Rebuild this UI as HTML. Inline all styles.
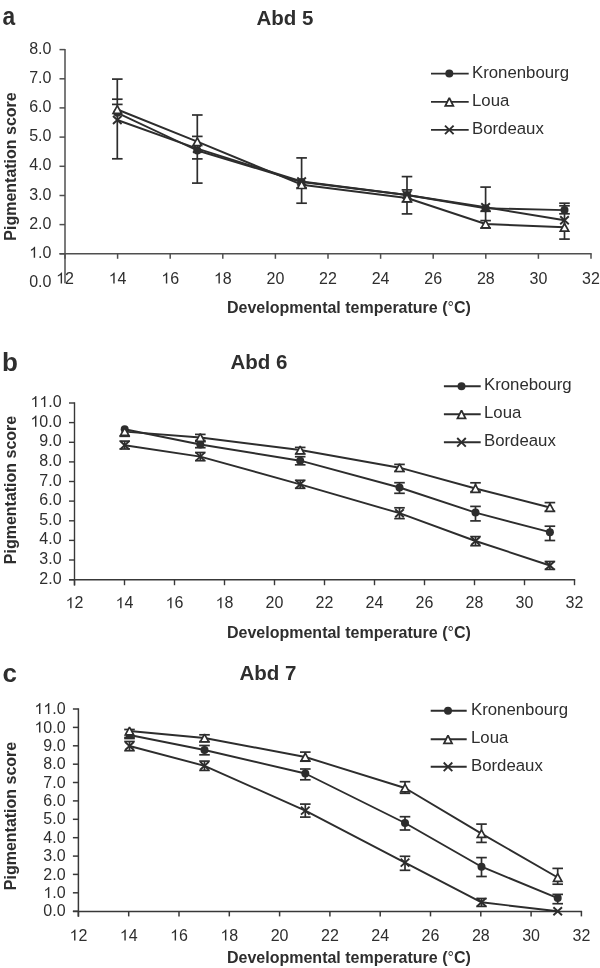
<!DOCTYPE html>
<html><head><meta charset="utf-8"><title>Figure</title>
<style>
html,body{margin:0;padding:0;background:#fff;width:600px;height:968px;overflow:hidden}
svg{display:block;will-change:transform}
text{font-family:"Liberation Sans",sans-serif;fill:#2e2e2e}
</style></head><body>
<svg width="600" height="968" viewBox="0 0 600 968">
<rect width="600" height="968" fill="#fff"/>
<line x1="65.0" y1="48.9" x2="65.0" y2="283.3" stroke="#4f4f4f" stroke-width="1.5"/>
<line x1="59.5" y1="253.8" x2="591.7" y2="253.8" stroke="#4f4f4f" stroke-width="1.5"/>
<line x1="59.5" y1="49.6" x2="65.0" y2="49.6" stroke="#4f4f4f" stroke-width="1.5"/>
<text x="29.16 38.06 42.50" y="53.6" font-size="16">8.0</text>
<line x1="59.5" y1="78.8" x2="65.0" y2="78.8" stroke="#4f4f4f" stroke-width="1.5"/>
<text x="29.16 38.06 42.50" y="82.8" font-size="16">7.0</text>
<line x1="59.5" y1="107.9" x2="65.0" y2="107.9" stroke="#4f4f4f" stroke-width="1.5"/>
<text x="29.16 38.06 42.50" y="111.9" font-size="16">6.0</text>
<line x1="59.5" y1="137.1" x2="65.0" y2="137.1" stroke="#4f4f4f" stroke-width="1.5"/>
<text x="29.16 38.06 42.50" y="141.1" font-size="16">5.0</text>
<line x1="59.5" y1="166.3" x2="65.0" y2="166.3" stroke="#4f4f4f" stroke-width="1.5"/>
<text x="29.16 38.06 42.50" y="170.3" font-size="16">4.0</text>
<line x1="59.5" y1="195.5" x2="65.0" y2="195.5" stroke="#4f4f4f" stroke-width="1.5"/>
<text x="29.16 38.06 42.50" y="199.5" font-size="16">3.0</text>
<line x1="59.5" y1="224.6" x2="65.0" y2="224.6" stroke="#4f4f4f" stroke-width="1.5"/>
<text x="29.16 38.06 42.50" y="228.6" font-size="16">2.0</text>
<line x1="59.5" y1="253.8" x2="65.0" y2="253.8" stroke="#4f4f4f" stroke-width="1.5"/>
<path d="M763,0L583,0L583,1098Q518,1038 412,979Q306,920 223,890L223,1057Q375,1125 488,1221Q601,1318 648,1409L763,1409Z" transform="translate(29.16,257.79) scale(0.007812,-0.007812)" fill="#2e2e2e"/>
<text x="38.06 42.50" y="257.8" font-size="16">.0</text>
<text x="29.16 38.06 42.50" y="287.0" font-size="16">0.0</text>
<line x1="65.0" y1="253.8" x2="65.0" y2="258.8" stroke="#4f4f4f" stroke-width="1.5"/>
<path d="M763,0L583,0L583,1098Q518,1038 412,979Q306,920 223,890L223,1057Q375,1125 488,1221Q601,1318 648,1409L763,1409Z" transform="translate(56.10,283.50) scale(0.007812,-0.007812)" fill="#2e2e2e"/>
<text x="65.00" y="283.5" font-size="16">2</text>
<line x1="117.6" y1="253.8" x2="117.6" y2="258.8" stroke="#4f4f4f" stroke-width="1.5"/>
<path d="M763,0L583,0L583,1098Q518,1038 412,979Q306,920 223,890L223,1057Q375,1125 488,1221Q601,1318 648,1409L763,1409Z" transform="translate(108.70,283.50) scale(0.007812,-0.007812)" fill="#2e2e2e"/>
<text x="117.60" y="283.5" font-size="16">4</text>
<line x1="170.2" y1="253.8" x2="170.2" y2="258.8" stroke="#4f4f4f" stroke-width="1.5"/>
<path d="M763,0L583,0L583,1098Q518,1038 412,979Q306,920 223,890L223,1057Q375,1125 488,1221Q601,1318 648,1409L763,1409Z" transform="translate(161.30,283.50) scale(0.007812,-0.007812)" fill="#2e2e2e"/>
<text x="170.20" y="283.5" font-size="16">6</text>
<line x1="222.8" y1="253.8" x2="222.8" y2="258.8" stroke="#4f4f4f" stroke-width="1.5"/>
<path d="M763,0L583,0L583,1098Q518,1038 412,979Q306,920 223,890L223,1057Q375,1125 488,1221Q601,1318 648,1409L763,1409Z" transform="translate(213.90,283.50) scale(0.007812,-0.007812)" fill="#2e2e2e"/>
<text x="222.80" y="283.5" font-size="16">8</text>
<line x1="275.4" y1="253.8" x2="275.4" y2="258.8" stroke="#4f4f4f" stroke-width="1.5"/>
<text x="266.50 275.40" y="283.5" font-size="16">20</text>
<line x1="328.0" y1="253.8" x2="328.0" y2="258.8" stroke="#4f4f4f" stroke-width="1.5"/>
<text x="319.10 328.00" y="283.5" font-size="16">22</text>
<line x1="380.6" y1="253.8" x2="380.6" y2="258.8" stroke="#4f4f4f" stroke-width="1.5"/>
<text x="371.70 380.60" y="283.5" font-size="16">24</text>
<line x1="433.2" y1="253.8" x2="433.2" y2="258.8" stroke="#4f4f4f" stroke-width="1.5"/>
<text x="424.30 433.20" y="283.5" font-size="16">26</text>
<line x1="485.8" y1="253.8" x2="485.8" y2="258.8" stroke="#4f4f4f" stroke-width="1.5"/>
<text x="476.90 485.80" y="283.5" font-size="16">28</text>
<line x1="538.4" y1="253.8" x2="538.4" y2="258.8" stroke="#4f4f4f" stroke-width="1.5"/>
<text x="529.50 538.40" y="283.5" font-size="16">30</text>
<line x1="591.0" y1="253.8" x2="591.0" y2="258.8" stroke="#4f4f4f" stroke-width="1.5"/>
<text x="582.10 591.00" y="283.5" font-size="16">32</text>
<line x1="117.3" y1="79.1" x2="117.3" y2="158.8" stroke="#2d2d2d" stroke-width="1.7"/>
<line x1="112.0" y1="79.1" x2="122.6" y2="79.1" stroke="#2d2d2d" stroke-width="1.7"/>
<line x1="112.0" y1="99.2" x2="122.6" y2="99.2" stroke="#2d2d2d" stroke-width="1.7"/>
<line x1="112.0" y1="104.4" x2="122.6" y2="104.4" stroke="#2d2d2d" stroke-width="1.7"/>
<line x1="112.0" y1="158.8" x2="122.6" y2="158.8" stroke="#2d2d2d" stroke-width="1.7"/>
<line x1="197.3" y1="115.0" x2="197.3" y2="183.1" stroke="#2d2d2d" stroke-width="1.7"/>
<line x1="192.0" y1="115.0" x2="202.6" y2="115.0" stroke="#2d2d2d" stroke-width="1.7"/>
<line x1="192.0" y1="136.4" x2="202.6" y2="136.4" stroke="#2d2d2d" stroke-width="1.7"/>
<line x1="192.0" y1="158.9" x2="202.6" y2="158.9" stroke="#2d2d2d" stroke-width="1.7"/>
<line x1="192.0" y1="183.1" x2="202.6" y2="183.1" stroke="#2d2d2d" stroke-width="1.7"/>
<line x1="301.6" y1="157.9" x2="301.6" y2="203.2" stroke="#2d2d2d" stroke-width="1.7"/>
<line x1="296.3" y1="157.9" x2="306.9" y2="157.9" stroke="#2d2d2d" stroke-width="1.7"/>
<line x1="296.3" y1="187.8" x2="306.9" y2="187.8" stroke="#2d2d2d" stroke-width="1.7"/>
<line x1="296.3" y1="203.2" x2="306.9" y2="203.2" stroke="#2d2d2d" stroke-width="1.7"/>
<line x1="407.0" y1="176.6" x2="407.0" y2="213.9" stroke="#2d2d2d" stroke-width="1.7"/>
<line x1="401.7" y1="176.6" x2="412.3" y2="176.6" stroke="#2d2d2d" stroke-width="1.7"/>
<line x1="401.7" y1="189.9" x2="412.3" y2="189.9" stroke="#2d2d2d" stroke-width="1.7"/>
<line x1="401.7" y1="201.7" x2="412.3" y2="201.7" stroke="#2d2d2d" stroke-width="1.7"/>
<line x1="401.7" y1="213.9" x2="412.3" y2="213.9" stroke="#2d2d2d" stroke-width="1.7"/>
<line x1="485.6" y1="187.1" x2="485.6" y2="228.0" stroke="#2d2d2d" stroke-width="1.7"/>
<line x1="480.3" y1="187.1" x2="490.9" y2="187.1" stroke="#2d2d2d" stroke-width="1.7"/>
<line x1="480.3" y1="211.3" x2="490.9" y2="211.3" stroke="#2d2d2d" stroke-width="1.7"/>
<line x1="480.3" y1="220.6" x2="490.9" y2="220.6" stroke="#2d2d2d" stroke-width="1.7"/>
<line x1="480.3" y1="228.0" x2="490.9" y2="228.0" stroke="#2d2d2d" stroke-width="1.7"/>
<line x1="564.5" y1="203.2" x2="564.5" y2="239.1" stroke="#2d2d2d" stroke-width="1.7"/>
<line x1="559.2" y1="203.2" x2="569.8" y2="203.2" stroke="#2d2d2d" stroke-width="1.7"/>
<line x1="559.2" y1="205.8" x2="569.8" y2="205.8" stroke="#2d2d2d" stroke-width="1.7"/>
<line x1="559.2" y1="213.8" x2="569.8" y2="213.8" stroke="#2d2d2d" stroke-width="1.7"/>
<line x1="559.2" y1="239.1" x2="569.8" y2="239.1" stroke="#2d2d2d" stroke-width="1.7"/>
<polyline points="117.3,112.8 197.3,150.5 301.6,182.0 407.0,195.0 485.6,208.3 564.5,210.1" fill="none" stroke="#2d2d2d" stroke-width="1.9" stroke-linejoin="round"/>
<polyline points="117.3,109.5 197.3,141.7 301.6,184.7 407.0,198.0 485.6,224.0 564.5,227.3" fill="none" stroke="#2d2d2d" stroke-width="1.9" stroke-linejoin="round"/>
<polyline points="117.3,120.0 197.3,148.7 301.6,181.5 407.0,195.0 485.6,207.3 564.5,220.3" fill="none" stroke="#2d2d2d" stroke-width="1.9" stroke-linejoin="round"/>
<circle cx="117.3" cy="112.8" r="4.0" fill="#2d2d2d"/>
<circle cx="197.3" cy="150.5" r="4.0" fill="#2d2d2d"/>
<circle cx="301.6" cy="182.0" r="4.0" fill="#2d2d2d"/>
<circle cx="407.0" cy="195.0" r="4.0" fill="#2d2d2d"/>
<circle cx="485.6" cy="208.3" r="4.0" fill="#2d2d2d"/>
<circle cx="564.5" cy="210.1" r="4.0" fill="#2d2d2d"/>
<path d="M113.0,116.0L121.6,124.0M121.6,116.0L113.0,124.0" stroke="#2d2d2d" stroke-width="1.9" fill="none"/>
<path d="M193.0,144.7L201.6,152.7M201.6,144.7L193.0,152.7" stroke="#2d2d2d" stroke-width="1.9" fill="none"/>
<path d="M297.3,177.5L305.9,185.5M305.9,177.5L297.3,185.5" stroke="#2d2d2d" stroke-width="1.9" fill="none"/>
<path d="M402.7,191.0L411.3,199.0M411.3,191.0L402.7,199.0" stroke="#2d2d2d" stroke-width="1.9" fill="none"/>
<path d="M481.3,203.3L489.9,211.3M489.9,203.3L481.3,211.3" stroke="#2d2d2d" stroke-width="1.9" fill="none"/>
<path d="M560.2,216.3L568.8,224.3M568.8,216.3L560.2,224.3" stroke="#2d2d2d" stroke-width="1.9" fill="none"/>
<polygon points="117.30,105.70 121.50,113.30 113.10,113.30" fill="#fff" stroke="#2d2d2d" stroke-width="1.7" stroke-linejoin="miter" stroke-miterlimit="2"/>
<polygon points="197.30,137.90 201.50,145.50 193.10,145.50" fill="#fff" stroke="#2d2d2d" stroke-width="1.7" stroke-linejoin="miter" stroke-miterlimit="2"/>
<polygon points="301.60,180.90 305.80,188.50 297.40,188.50" fill="#fff" stroke="#2d2d2d" stroke-width="1.7" stroke-linejoin="miter" stroke-miterlimit="2"/>
<polygon points="407.00,194.20 411.20,201.80 402.80,201.80" fill="#fff" stroke="#2d2d2d" stroke-width="1.7" stroke-linejoin="miter" stroke-miterlimit="2"/>
<polygon points="485.60,220.20 489.80,227.80 481.40,227.80" fill="#fff" stroke="#2d2d2d" stroke-width="1.7" stroke-linejoin="miter" stroke-miterlimit="2"/>
<polygon points="564.50,223.50 568.70,231.10 560.30,231.10" fill="#fff" stroke="#2d2d2d" stroke-width="1.7" stroke-linejoin="miter" stroke-miterlimit="2"/>
<line x1="431.0" y1="73.6" x2="468.7" y2="73.6" stroke="#2d2d2d" stroke-width="1.9"/>
<circle cx="449.3" cy="73.6" r="4.0" fill="#2d2d2d"/>
<text x="472.0" y="77.6" font-size="16.8" text-anchor="start" >Kronenbourg</text>
<line x1="431.0" y1="101.9" x2="468.7" y2="101.9" stroke="#2d2d2d" stroke-width="1.9"/>
<polygon points="449.30,97.90 453.30,105.90 445.30,105.90" fill="#fff" stroke="#2d2d2d" stroke-width="1.8" stroke-linejoin="miter" stroke-miterlimit="2"/>
<text x="472.0" y="105.9" font-size="16.8" text-anchor="start" >Loua</text>
<line x1="431.0" y1="129.9" x2="468.7" y2="129.9" stroke="#2d2d2d" stroke-width="1.9"/>
<path d="M445.0,125.6L453.6,134.2M453.6,125.6L445.0,134.2" stroke="#2d2d2d" stroke-width="1.9" fill="none"/>
<text x="472.0" y="133.9" font-size="16.8" text-anchor="start" >Bordeaux</text>
<text x="0" y="0" font-size="26" font-weight="bold" transform="translate(2.6,24.8) scale(0.875,1)">a</text>
<text x="256.5" y="25.0" font-size="20.5" font-weight="bold" text-anchor="start" >Abd 5</text>
<text x="227.0" y="313.4" font-size="16" font-weight="bold" text-anchor="start" >Developmental temperature (<tspan font-weight="normal">°</tspan>C)</text>
<text x="0" y="0" font-size="16" font-weight="bold" text-anchor="middle" transform="translate(15.5,166.5) rotate(-90)">Pigmentation score</text>
<line x1="74.5" y1="402.3" x2="74.5" y2="585.6" stroke="#383838" stroke-width="1.4"/>
<line x1="69.0" y1="579.7" x2="575.2" y2="579.7" stroke="#383838" stroke-width="1.4"/>
<line x1="69.0" y1="403.0" x2="74.5" y2="403.0" stroke="#383838" stroke-width="1.4"/>
<path d="M763,0L583,0L583,1098Q518,1038 412,979Q306,920 223,890L223,1057Q375,1125 488,1221Q601,1318 648,1409L763,1409Z" transform="translate(30.46,407.00) scale(0.007812,-0.007812)" fill="#2e2e2e"/>
<path d="M763,0L583,0L583,1098Q518,1038 412,979Q306,920 223,890L223,1057Q375,1125 488,1221Q601,1318 648,1409L763,1409Z" transform="translate(39.36,407.00) scale(0.007812,-0.007812)" fill="#2e2e2e"/>
<text x="48.26 52.70" y="407.0" font-size="16">.0</text>
<line x1="69.0" y1="422.6" x2="74.5" y2="422.6" stroke="#383838" stroke-width="1.4"/>
<path d="M763,0L583,0L583,1098Q518,1038 412,979Q306,920 223,890L223,1057Q375,1125 488,1221Q601,1318 648,1409L763,1409Z" transform="translate(30.46,426.63) scale(0.007812,-0.007812)" fill="#2e2e2e"/>
<text x="39.36 48.26 52.70" y="426.6" font-size="16">0.0</text>
<line x1="69.0" y1="442.3" x2="74.5" y2="442.3" stroke="#383838" stroke-width="1.4"/>
<text x="39.36 48.26 52.70" y="446.3" font-size="16">9.0</text>
<line x1="69.0" y1="461.9" x2="74.5" y2="461.9" stroke="#383838" stroke-width="1.4"/>
<text x="39.36 48.26 52.70" y="465.9" font-size="16">8.0</text>
<line x1="69.0" y1="481.5" x2="74.5" y2="481.5" stroke="#383838" stroke-width="1.4"/>
<text x="39.36 48.26 52.70" y="485.5" font-size="16">7.0</text>
<line x1="69.0" y1="501.1" x2="74.5" y2="501.1" stroke="#383838" stroke-width="1.4"/>
<text x="39.36 48.26 52.70" y="505.1" font-size="16">6.0</text>
<line x1="69.0" y1="520.8" x2="74.5" y2="520.8" stroke="#383838" stroke-width="1.4"/>
<text x="39.36 48.26 52.70" y="524.8" font-size="16">5.0</text>
<line x1="69.0" y1="540.4" x2="74.5" y2="540.4" stroke="#383838" stroke-width="1.4"/>
<text x="39.36 48.26 52.70" y="544.4" font-size="16">4.0</text>
<line x1="69.0" y1="560.0" x2="74.5" y2="560.0" stroke="#383838" stroke-width="1.4"/>
<text x="39.36 48.26 52.70" y="564.0" font-size="16">3.0</text>
<line x1="69.0" y1="579.7" x2="74.5" y2="579.7" stroke="#383838" stroke-width="1.4"/>
<text x="39.36 48.26 52.70" y="583.7" font-size="16">2.0</text>
<line x1="74.5" y1="579.7" x2="74.5" y2="585.2" stroke="#383838" stroke-width="1.4"/>
<path d="M763,0L583,0L583,1098Q518,1038 412,979Q306,920 223,890L223,1057Q375,1125 488,1221Q601,1318 648,1409L763,1409Z" transform="translate(65.60,608.20) scale(0.007812,-0.007812)" fill="#2e2e2e"/>
<text x="74.50" y="608.2" font-size="16">2</text>
<line x1="124.5" y1="579.7" x2="124.5" y2="585.2" stroke="#383838" stroke-width="1.4"/>
<path d="M763,0L583,0L583,1098Q518,1038 412,979Q306,920 223,890L223,1057Q375,1125 488,1221Q601,1318 648,1409L763,1409Z" transform="translate(115.60,608.20) scale(0.007812,-0.007812)" fill="#2e2e2e"/>
<text x="124.50" y="608.2" font-size="16">4</text>
<line x1="174.5" y1="579.7" x2="174.5" y2="585.2" stroke="#383838" stroke-width="1.4"/>
<path d="M763,0L583,0L583,1098Q518,1038 412,979Q306,920 223,890L223,1057Q375,1125 488,1221Q601,1318 648,1409L763,1409Z" transform="translate(165.60,608.20) scale(0.007812,-0.007812)" fill="#2e2e2e"/>
<text x="174.50" y="608.2" font-size="16">6</text>
<line x1="224.5" y1="579.7" x2="224.5" y2="585.2" stroke="#383838" stroke-width="1.4"/>
<path d="M763,0L583,0L583,1098Q518,1038 412,979Q306,920 223,890L223,1057Q375,1125 488,1221Q601,1318 648,1409L763,1409Z" transform="translate(215.60,608.20) scale(0.007812,-0.007812)" fill="#2e2e2e"/>
<text x="224.50" y="608.2" font-size="16">8</text>
<line x1="274.5" y1="579.7" x2="274.5" y2="585.2" stroke="#383838" stroke-width="1.4"/>
<text x="265.60 274.50" y="608.2" font-size="16">20</text>
<line x1="324.5" y1="579.7" x2="324.5" y2="585.2" stroke="#383838" stroke-width="1.4"/>
<text x="315.60 324.50" y="608.2" font-size="16">22</text>
<line x1="374.5" y1="579.7" x2="374.5" y2="585.2" stroke="#383838" stroke-width="1.4"/>
<text x="365.60 374.50" y="608.2" font-size="16">24</text>
<line x1="424.5" y1="579.7" x2="424.5" y2="585.2" stroke="#383838" stroke-width="1.4"/>
<text x="415.60 424.50" y="608.2" font-size="16">26</text>
<line x1="474.5" y1="579.7" x2="474.5" y2="585.2" stroke="#383838" stroke-width="1.4"/>
<text x="465.60 474.50" y="608.2" font-size="16">28</text>
<line x1="524.5" y1="579.7" x2="524.5" y2="585.2" stroke="#383838" stroke-width="1.4"/>
<text x="515.60 524.50" y="608.2" font-size="16">30</text>
<line x1="574.5" y1="579.7" x2="574.5" y2="585.2" stroke="#383838" stroke-width="1.4"/>
<text x="565.60 574.50" y="608.2" font-size="16">32</text>
<line x1="124.7" y1="428.5" x2="124.7" y2="436.3" stroke="#2d2d2d" stroke-width="1.7"/>
<line x1="119.4" y1="436.3" x2="130.0" y2="436.3" stroke="#2d2d2d" stroke-width="1.7"/>
<line x1="124.7" y1="441.1" x2="124.7" y2="449.0" stroke="#2d2d2d" stroke-width="1.7"/>
<line x1="119.4" y1="441.1" x2="130.0" y2="441.1" stroke="#2d2d2d" stroke-width="1.7"/>
<line x1="119.4" y1="449.0" x2="130.0" y2="449.0" stroke="#2d2d2d" stroke-width="1.7"/>
<line x1="200.3" y1="434.4" x2="200.3" y2="440.5" stroke="#2d2d2d" stroke-width="1.7"/>
<line x1="195.0" y1="434.4" x2="205.6" y2="434.4" stroke="#2d2d2d" stroke-width="1.7"/>
<line x1="195.0" y1="440.5" x2="205.6" y2="440.5" stroke="#2d2d2d" stroke-width="1.7"/>
<line x1="200.3" y1="441.5" x2="200.3" y2="447.7" stroke="#2d2d2d" stroke-width="1.7"/>
<line x1="195.0" y1="441.5" x2="205.6" y2="441.5" stroke="#2d2d2d" stroke-width="1.7"/>
<line x1="195.0" y1="447.7" x2="205.6" y2="447.7" stroke="#2d2d2d" stroke-width="1.7"/>
<line x1="200.3" y1="452.5" x2="200.3" y2="460.7" stroke="#2d2d2d" stroke-width="1.7"/>
<line x1="195.0" y1="452.5" x2="205.6" y2="452.5" stroke="#2d2d2d" stroke-width="1.7"/>
<line x1="195.0" y1="460.7" x2="205.6" y2="460.7" stroke="#2d2d2d" stroke-width="1.7"/>
<line x1="300.2" y1="447.4" x2="300.2" y2="453.6" stroke="#2d2d2d" stroke-width="1.7"/>
<line x1="294.9" y1="447.4" x2="305.5" y2="447.4" stroke="#2d2d2d" stroke-width="1.7"/>
<line x1="294.9" y1="453.6" x2="305.5" y2="453.6" stroke="#2d2d2d" stroke-width="1.7"/>
<line x1="300.2" y1="456.7" x2="300.2" y2="464.8" stroke="#2d2d2d" stroke-width="1.7"/>
<line x1="294.9" y1="456.7" x2="305.5" y2="456.7" stroke="#2d2d2d" stroke-width="1.7"/>
<line x1="294.9" y1="464.8" x2="305.5" y2="464.8" stroke="#2d2d2d" stroke-width="1.7"/>
<line x1="300.2" y1="480.3" x2="300.2" y2="488.3" stroke="#2d2d2d" stroke-width="1.7"/>
<line x1="294.9" y1="480.3" x2="305.5" y2="480.3" stroke="#2d2d2d" stroke-width="1.7"/>
<line x1="294.9" y1="488.3" x2="305.5" y2="488.3" stroke="#2d2d2d" stroke-width="1.7"/>
<line x1="399.5" y1="464.4" x2="399.5" y2="471.3" stroke="#2d2d2d" stroke-width="1.7"/>
<line x1="394.2" y1="464.4" x2="404.8" y2="464.4" stroke="#2d2d2d" stroke-width="1.7"/>
<line x1="394.2" y1="471.3" x2="404.8" y2="471.3" stroke="#2d2d2d" stroke-width="1.7"/>
<line x1="399.5" y1="482.7" x2="399.5" y2="493.3" stroke="#2d2d2d" stroke-width="1.7"/>
<line x1="394.2" y1="482.7" x2="404.8" y2="482.7" stroke="#2d2d2d" stroke-width="1.7"/>
<line x1="394.2" y1="493.3" x2="404.8" y2="493.3" stroke="#2d2d2d" stroke-width="1.7"/>
<line x1="399.5" y1="507.8" x2="399.5" y2="518.6" stroke="#2d2d2d" stroke-width="1.7"/>
<line x1="394.2" y1="507.8" x2="404.8" y2="507.8" stroke="#2d2d2d" stroke-width="1.7"/>
<line x1="394.2" y1="518.6" x2="404.8" y2="518.6" stroke="#2d2d2d" stroke-width="1.7"/>
<line x1="475.5" y1="482.8" x2="475.5" y2="491.7" stroke="#2d2d2d" stroke-width="1.7"/>
<line x1="470.2" y1="482.8" x2="480.8" y2="482.8" stroke="#2d2d2d" stroke-width="1.7"/>
<line x1="470.2" y1="491.7" x2="480.8" y2="491.7" stroke="#2d2d2d" stroke-width="1.7"/>
<line x1="475.5" y1="506.4" x2="475.5" y2="520.9" stroke="#2d2d2d" stroke-width="1.7"/>
<line x1="470.2" y1="506.4" x2="480.8" y2="506.4" stroke="#2d2d2d" stroke-width="1.7"/>
<line x1="470.2" y1="520.9" x2="480.8" y2="520.9" stroke="#2d2d2d" stroke-width="1.7"/>
<line x1="475.5" y1="536.6" x2="475.5" y2="545.7" stroke="#2d2d2d" stroke-width="1.7"/>
<line x1="470.2" y1="536.6" x2="480.8" y2="536.6" stroke="#2d2d2d" stroke-width="1.7"/>
<line x1="470.2" y1="545.7" x2="480.8" y2="545.7" stroke="#2d2d2d" stroke-width="1.7"/>
<line x1="549.9" y1="502.6" x2="549.9" y2="511.1" stroke="#2d2d2d" stroke-width="1.7"/>
<line x1="544.6" y1="502.6" x2="555.2" y2="502.6" stroke="#2d2d2d" stroke-width="1.7"/>
<line x1="544.6" y1="511.1" x2="555.2" y2="511.1" stroke="#2d2d2d" stroke-width="1.7"/>
<line x1="549.9" y1="526.2" x2="549.9" y2="540.5" stroke="#2d2d2d" stroke-width="1.7"/>
<line x1="544.6" y1="526.2" x2="555.2" y2="526.2" stroke="#2d2d2d" stroke-width="1.7"/>
<line x1="544.6" y1="540.5" x2="555.2" y2="540.5" stroke="#2d2d2d" stroke-width="1.7"/>
<line x1="549.9" y1="561.5" x2="549.9" y2="569.4" stroke="#2d2d2d" stroke-width="1.7"/>
<line x1="544.6" y1="561.5" x2="555.2" y2="561.5" stroke="#2d2d2d" stroke-width="1.7"/>
<line x1="544.6" y1="569.4" x2="555.2" y2="569.4" stroke="#2d2d2d" stroke-width="1.7"/>
<polyline points="124.7,429.3 200.3,444.5 300.2,460.7 399.5,487.5 475.5,512.6 549.9,532.2" fill="none" stroke="#2d2d2d" stroke-width="1.9" stroke-linejoin="round"/>
<polyline points="124.7,431.6 200.3,437.5 300.2,450.0 399.5,467.7 475.5,488.5 549.9,507.5" fill="none" stroke="#2d2d2d" stroke-width="1.9" stroke-linejoin="round"/>
<polyline points="124.7,445.3 200.3,456.6 300.2,484.3 399.5,513.2 475.5,541.0 549.9,565.5" fill="none" stroke="#2d2d2d" stroke-width="1.9" stroke-linejoin="round"/>
<circle cx="124.7" cy="429.3" r="4.0" fill="#2d2d2d"/>
<circle cx="200.3" cy="444.5" r="4.0" fill="#2d2d2d"/>
<circle cx="300.2" cy="460.7" r="4.0" fill="#2d2d2d"/>
<circle cx="399.5" cy="487.5" r="4.0" fill="#2d2d2d"/>
<circle cx="475.5" cy="512.6" r="4.0" fill="#2d2d2d"/>
<circle cx="549.9" cy="532.2" r="4.0" fill="#2d2d2d"/>
<path d="M120.4,441.3L129.0,449.3M129.0,441.3L120.4,449.3" stroke="#2d2d2d" stroke-width="1.9" fill="none"/>
<path d="M196.0,452.6L204.6,460.6M204.6,452.6L196.0,460.6" stroke="#2d2d2d" stroke-width="1.9" fill="none"/>
<path d="M295.9,480.3L304.5,488.3M304.5,480.3L295.9,488.3" stroke="#2d2d2d" stroke-width="1.9" fill="none"/>
<path d="M395.2,509.2L403.8,517.2M403.8,509.2L395.2,517.2" stroke="#2d2d2d" stroke-width="1.9" fill="none"/>
<path d="M471.2,537.0L479.8,545.0M479.8,537.0L471.2,545.0" stroke="#2d2d2d" stroke-width="1.9" fill="none"/>
<path d="M545.6,561.5L554.2,569.5M554.2,561.5L545.6,569.5" stroke="#2d2d2d" stroke-width="1.9" fill="none"/>
<polygon points="124.70,427.80 128.90,435.40 120.50,435.40" fill="#fff" stroke="#2d2d2d" stroke-width="1.7" stroke-linejoin="miter" stroke-miterlimit="2"/>
<polygon points="200.30,433.70 204.50,441.30 196.10,441.30" fill="#fff" stroke="#2d2d2d" stroke-width="1.7" stroke-linejoin="miter" stroke-miterlimit="2"/>
<polygon points="300.20,446.20 304.40,453.80 296.00,453.80" fill="#fff" stroke="#2d2d2d" stroke-width="1.7" stroke-linejoin="miter" stroke-miterlimit="2"/>
<polygon points="399.50,463.90 403.70,471.50 395.30,471.50" fill="#fff" stroke="#2d2d2d" stroke-width="1.7" stroke-linejoin="miter" stroke-miterlimit="2"/>
<polygon points="475.50,484.70 479.70,492.30 471.30,492.30" fill="#fff" stroke="#2d2d2d" stroke-width="1.7" stroke-linejoin="miter" stroke-miterlimit="2"/>
<polygon points="549.90,503.70 554.10,511.30 545.70,511.30" fill="#fff" stroke="#2d2d2d" stroke-width="1.7" stroke-linejoin="miter" stroke-miterlimit="2"/>
<line x1="443.9" y1="386.3" x2="480.7" y2="386.3" stroke="#2d2d2d" stroke-width="1.9"/>
<circle cx="461.5" cy="386.3" r="4.0" fill="#2d2d2d"/>
<text x="484.0" y="389.9" font-size="16.8" text-anchor="start" >Kronebourg</text>
<line x1="443.9" y1="414.3" x2="480.7" y2="414.3" stroke="#2d2d2d" stroke-width="1.9"/>
<polygon points="461.50,410.30 465.50,418.30 457.50,418.30" fill="#fff" stroke="#2d2d2d" stroke-width="1.8" stroke-linejoin="miter" stroke-miterlimit="2"/>
<text x="484.0" y="417.9" font-size="16.8" text-anchor="start" >Loua</text>
<line x1="443.9" y1="442.3" x2="480.7" y2="442.3" stroke="#2d2d2d" stroke-width="1.9"/>
<path d="M457.2,438.0L465.8,446.6M465.8,438.0L457.2,446.6" stroke="#2d2d2d" stroke-width="1.9" fill="none"/>
<text x="484.0" y="445.9" font-size="16.8" text-anchor="start" >Bordeaux</text>
<text x="0" y="0" font-size="26" font-weight="bold" transform="translate(2.0,371.0) scale(1.0,1)">b</text>
<text x="230.5" y="369.4" font-size="20.5" font-weight="bold" text-anchor="start" >Abd 6</text>
<text x="227.0" y="637.5" font-size="16" font-weight="bold" text-anchor="start" >Developmental temperature (<tspan font-weight="normal">°</tspan>C)</text>
<text x="0" y="0" font-size="16" font-weight="bold" text-anchor="middle" transform="translate(15.5,490.0) rotate(-90)">Pigmentation score</text>
<line x1="78.4" y1="708.3" x2="78.4" y2="916.8" stroke="#383838" stroke-width="1.5"/>
<line x1="72.9" y1="911.4" x2="582.1" y2="911.4" stroke="#383838" stroke-width="1.5"/>
<line x1="72.9" y1="709.0" x2="78.4" y2="709.0" stroke="#383838" stroke-width="1.5"/>
<path d="M763,0L583,0L583,1098Q518,1038 412,979Q306,920 223,890L223,1057Q375,1125 488,1221Q601,1318 648,1409L763,1409Z" transform="translate(34.46,714.12) scale(0.007812,-0.007812)" fill="#2e2e2e"/>
<path d="M763,0L583,0L583,1098Q518,1038 412,979Q306,920 223,890L223,1057Q375,1125 488,1221Q601,1318 648,1409L763,1409Z" transform="translate(43.36,714.12) scale(0.007812,-0.007812)" fill="#2e2e2e"/>
<text x="52.26 56.70" y="714.1" font-size="16">.0</text>
<line x1="72.9" y1="727.4" x2="78.4" y2="727.4" stroke="#383838" stroke-width="1.5"/>
<path d="M763,0L583,0L583,1098Q518,1038 412,979Q306,920 223,890L223,1057Q375,1125 488,1221Q601,1318 648,1409L763,1409Z" transform="translate(34.46,732.50) scale(0.007812,-0.007812)" fill="#2e2e2e"/>
<text x="43.36 52.26 56.70" y="732.5" font-size="16">0.0</text>
<line x1="72.9" y1="745.8" x2="78.4" y2="745.8" stroke="#383838" stroke-width="1.5"/>
<text x="43.36 52.26 56.70" y="750.9" font-size="16">9.0</text>
<line x1="72.9" y1="764.2" x2="78.4" y2="764.2" stroke="#383838" stroke-width="1.5"/>
<text x="43.36 52.26 56.70" y="769.3" font-size="16">8.0</text>
<line x1="72.9" y1="782.5" x2="78.4" y2="782.5" stroke="#383838" stroke-width="1.5"/>
<text x="43.36 52.26 56.70" y="787.6" font-size="16">7.0</text>
<line x1="72.9" y1="800.9" x2="78.4" y2="800.9" stroke="#383838" stroke-width="1.5"/>
<text x="43.36 52.26 56.70" y="806.0" font-size="16">6.0</text>
<line x1="72.9" y1="819.3" x2="78.4" y2="819.3" stroke="#383838" stroke-width="1.5"/>
<text x="43.36 52.26 56.70" y="824.4" font-size="16">5.0</text>
<line x1="72.9" y1="837.7" x2="78.4" y2="837.7" stroke="#383838" stroke-width="1.5"/>
<text x="43.36 52.26 56.70" y="842.8" font-size="16">4.0</text>
<line x1="72.9" y1="856.1" x2="78.4" y2="856.1" stroke="#383838" stroke-width="1.5"/>
<text x="43.36 52.26 56.70" y="861.2" font-size="16">3.0</text>
<line x1="72.9" y1="874.4" x2="78.4" y2="874.4" stroke="#383838" stroke-width="1.5"/>
<text x="43.36 52.26 56.70" y="879.5" font-size="16">2.0</text>
<line x1="72.9" y1="892.8" x2="78.4" y2="892.8" stroke="#383838" stroke-width="1.5"/>
<path d="M763,0L583,0L583,1098Q518,1038 412,979Q306,920 223,890L223,1057Q375,1125 488,1221Q601,1318 648,1409L763,1409Z" transform="translate(43.36,897.92) scale(0.007812,-0.007812)" fill="#2e2e2e"/>
<text x="52.26 56.70" y="897.9" font-size="16">.0</text>
<line x1="72.9" y1="911.2" x2="78.4" y2="911.2" stroke="#383838" stroke-width="1.5"/>
<text x="43.36 52.26 56.70" y="916.3" font-size="16">0.0</text>
<line x1="78.4" y1="911.4" x2="78.4" y2="916.4" stroke="#383838" stroke-width="1.5"/>
<path d="M763,0L583,0L583,1098Q518,1038 412,979Q306,920 223,890L223,1057Q375,1125 488,1221Q601,1318 648,1409L763,1409Z" transform="translate(69.50,940.50) scale(0.007812,-0.007812)" fill="#2e2e2e"/>
<text x="78.40" y="940.5" font-size="16">2</text>
<line x1="128.7" y1="911.4" x2="128.7" y2="916.4" stroke="#383838" stroke-width="1.5"/>
<path d="M763,0L583,0L583,1098Q518,1038 412,979Q306,920 223,890L223,1057Q375,1125 488,1221Q601,1318 648,1409L763,1409Z" transform="translate(119.80,940.50) scale(0.007812,-0.007812)" fill="#2e2e2e"/>
<text x="128.70" y="940.5" font-size="16">4</text>
<line x1="179.0" y1="911.4" x2="179.0" y2="916.4" stroke="#383838" stroke-width="1.5"/>
<path d="M763,0L583,0L583,1098Q518,1038 412,979Q306,920 223,890L223,1057Q375,1125 488,1221Q601,1318 648,1409L763,1409Z" transform="translate(170.10,940.50) scale(0.007812,-0.007812)" fill="#2e2e2e"/>
<text x="179.00" y="940.5" font-size="16">6</text>
<line x1="229.3" y1="911.4" x2="229.3" y2="916.4" stroke="#383838" stroke-width="1.5"/>
<path d="M763,0L583,0L583,1098Q518,1038 412,979Q306,920 223,890L223,1057Q375,1125 488,1221Q601,1318 648,1409L763,1409Z" transform="translate(220.40,940.50) scale(0.007812,-0.007812)" fill="#2e2e2e"/>
<text x="229.30" y="940.5" font-size="16">8</text>
<line x1="279.6" y1="911.4" x2="279.6" y2="916.4" stroke="#383838" stroke-width="1.5"/>
<text x="270.70 279.60" y="940.5" font-size="16">20</text>
<line x1="329.9" y1="911.4" x2="329.9" y2="916.4" stroke="#383838" stroke-width="1.5"/>
<text x="321.00 329.90" y="940.5" font-size="16">22</text>
<line x1="380.2" y1="911.4" x2="380.2" y2="916.4" stroke="#383838" stroke-width="1.5"/>
<text x="371.30 380.20" y="940.5" font-size="16">24</text>
<line x1="430.5" y1="911.4" x2="430.5" y2="916.4" stroke="#383838" stroke-width="1.5"/>
<text x="421.60 430.50" y="940.5" font-size="16">26</text>
<line x1="480.8" y1="911.4" x2="480.8" y2="916.4" stroke="#383838" stroke-width="1.5"/>
<text x="471.90 480.80" y="940.5" font-size="16">28</text>
<line x1="531.1" y1="911.4" x2="531.1" y2="916.4" stroke="#383838" stroke-width="1.5"/>
<text x="522.20 531.10" y="940.5" font-size="16">30</text>
<line x1="581.4" y1="911.4" x2="581.4" y2="916.4" stroke="#383838" stroke-width="1.5"/>
<text x="572.50 581.40" y="940.5" font-size="16">32</text>
<line x1="129.5" y1="729.5" x2="129.5" y2="737.5" stroke="#2d2d2d" stroke-width="1.7"/>
<line x1="124.2" y1="729.5" x2="134.8" y2="729.5" stroke="#2d2d2d" stroke-width="1.7"/>
<line x1="124.2" y1="737.5" x2="134.8" y2="737.5" stroke="#2d2d2d" stroke-width="1.7"/>
<line x1="129.5" y1="732.0" x2="129.5" y2="738.5" stroke="#2d2d2d" stroke-width="1.7"/>
<line x1="124.2" y1="738.5" x2="134.8" y2="738.5" stroke="#2d2d2d" stroke-width="1.7"/>
<line x1="129.5" y1="741.5" x2="129.5" y2="750.7" stroke="#2d2d2d" stroke-width="1.7"/>
<line x1="124.2" y1="741.5" x2="134.8" y2="741.5" stroke="#2d2d2d" stroke-width="1.7"/>
<line x1="124.2" y1="750.7" x2="134.8" y2="750.7" stroke="#2d2d2d" stroke-width="1.7"/>
<line x1="204.5" y1="734.8" x2="204.5" y2="741.5" stroke="#2d2d2d" stroke-width="1.7"/>
<line x1="199.2" y1="734.8" x2="209.8" y2="734.8" stroke="#2d2d2d" stroke-width="1.7"/>
<line x1="199.2" y1="741.5" x2="209.8" y2="741.5" stroke="#2d2d2d" stroke-width="1.7"/>
<line x1="204.5" y1="745.5" x2="204.5" y2="754.8" stroke="#2d2d2d" stroke-width="1.7"/>
<line x1="199.2" y1="745.5" x2="209.8" y2="745.5" stroke="#2d2d2d" stroke-width="1.7"/>
<line x1="199.2" y1="754.8" x2="209.8" y2="754.8" stroke="#2d2d2d" stroke-width="1.7"/>
<line x1="204.5" y1="761.1" x2="204.5" y2="770.4" stroke="#2d2d2d" stroke-width="1.7"/>
<line x1="199.2" y1="761.1" x2="209.8" y2="761.1" stroke="#2d2d2d" stroke-width="1.7"/>
<line x1="199.2" y1="770.4" x2="209.8" y2="770.4" stroke="#2d2d2d" stroke-width="1.7"/>
<line x1="305.3" y1="752.1" x2="305.3" y2="761.2" stroke="#2d2d2d" stroke-width="1.7"/>
<line x1="300.0" y1="752.1" x2="310.6" y2="752.1" stroke="#2d2d2d" stroke-width="1.7"/>
<line x1="300.0" y1="761.2" x2="310.6" y2="761.2" stroke="#2d2d2d" stroke-width="1.7"/>
<line x1="305.3" y1="769.0" x2="305.3" y2="779.8" stroke="#2d2d2d" stroke-width="1.7"/>
<line x1="300.0" y1="769.0" x2="310.6" y2="769.0" stroke="#2d2d2d" stroke-width="1.7"/>
<line x1="300.0" y1="779.8" x2="310.6" y2="779.8" stroke="#2d2d2d" stroke-width="1.7"/>
<line x1="305.3" y1="804.1" x2="305.3" y2="817.1" stroke="#2d2d2d" stroke-width="1.7"/>
<line x1="300.0" y1="804.1" x2="310.6" y2="804.1" stroke="#2d2d2d" stroke-width="1.7"/>
<line x1="300.0" y1="817.1" x2="310.6" y2="817.1" stroke="#2d2d2d" stroke-width="1.7"/>
<line x1="405.0" y1="781.7" x2="405.0" y2="793.3" stroke="#2d2d2d" stroke-width="1.7"/>
<line x1="399.7" y1="781.7" x2="410.3" y2="781.7" stroke="#2d2d2d" stroke-width="1.7"/>
<line x1="399.7" y1="793.3" x2="410.3" y2="793.3" stroke="#2d2d2d" stroke-width="1.7"/>
<line x1="405.0" y1="816.7" x2="405.0" y2="830.0" stroke="#2d2d2d" stroke-width="1.7"/>
<line x1="399.7" y1="816.7" x2="410.3" y2="816.7" stroke="#2d2d2d" stroke-width="1.7"/>
<line x1="399.7" y1="830.0" x2="410.3" y2="830.0" stroke="#2d2d2d" stroke-width="1.7"/>
<line x1="405.0" y1="856.3" x2="405.0" y2="870.3" stroke="#2d2d2d" stroke-width="1.7"/>
<line x1="399.7" y1="856.3" x2="410.3" y2="856.3" stroke="#2d2d2d" stroke-width="1.7"/>
<line x1="399.7" y1="870.3" x2="410.3" y2="870.3" stroke="#2d2d2d" stroke-width="1.7"/>
<line x1="481.5" y1="824.1" x2="481.5" y2="842.4" stroke="#2d2d2d" stroke-width="1.7"/>
<line x1="476.2" y1="824.1" x2="486.8" y2="824.1" stroke="#2d2d2d" stroke-width="1.7"/>
<line x1="476.2" y1="842.4" x2="486.8" y2="842.4" stroke="#2d2d2d" stroke-width="1.7"/>
<line x1="481.5" y1="857.6" x2="481.5" y2="876.5" stroke="#2d2d2d" stroke-width="1.7"/>
<line x1="476.2" y1="857.6" x2="486.8" y2="857.6" stroke="#2d2d2d" stroke-width="1.7"/>
<line x1="476.2" y1="876.5" x2="486.8" y2="876.5" stroke="#2d2d2d" stroke-width="1.7"/>
<line x1="481.5" y1="898.5" x2="481.5" y2="906.4" stroke="#2d2d2d" stroke-width="1.7"/>
<line x1="476.2" y1="898.5" x2="486.8" y2="898.5" stroke="#2d2d2d" stroke-width="1.7"/>
<line x1="476.2" y1="906.4" x2="486.8" y2="906.4" stroke="#2d2d2d" stroke-width="1.7"/>
<line x1="557.7" y1="868.4" x2="557.7" y2="884.2" stroke="#2d2d2d" stroke-width="1.7"/>
<line x1="552.4" y1="868.4" x2="563.0" y2="868.4" stroke="#2d2d2d" stroke-width="1.7"/>
<line x1="552.4" y1="884.2" x2="563.0" y2="884.2" stroke="#2d2d2d" stroke-width="1.7"/>
<line x1="557.7" y1="894.4" x2="557.7" y2="903.7" stroke="#2d2d2d" stroke-width="1.7"/>
<line x1="552.4" y1="894.4" x2="563.0" y2="894.4" stroke="#2d2d2d" stroke-width="1.7"/>
<line x1="552.4" y1="903.7" x2="563.0" y2="903.7" stroke="#2d2d2d" stroke-width="1.7"/>
<polyline points="129.5,735.0 204.5,750.0 305.3,773.5 405.0,823.0 481.5,866.7 557.7,898.1" fill="none" stroke="#2d2d2d" stroke-width="1.9" stroke-linejoin="round"/>
<polyline points="129.5,731.0 204.5,738.0 305.3,757.0 405.0,788.0 481.5,833.6 557.7,877.5" fill="none" stroke="#2d2d2d" stroke-width="1.9" stroke-linejoin="round"/>
<polyline points="129.5,746.0 204.5,765.8 305.3,810.6 405.0,862.6 481.5,902.3 557.7,911.3" fill="none" stroke="#2d2d2d" stroke-width="1.9" stroke-linejoin="round"/>
<circle cx="129.5" cy="735.0" r="4.0" fill="#2d2d2d"/>
<circle cx="204.5" cy="750.0" r="4.0" fill="#2d2d2d"/>
<circle cx="305.3" cy="773.5" r="4.0" fill="#2d2d2d"/>
<circle cx="405.0" cy="823.0" r="4.0" fill="#2d2d2d"/>
<circle cx="481.5" cy="866.7" r="4.0" fill="#2d2d2d"/>
<circle cx="557.7" cy="898.1" r="4.0" fill="#2d2d2d"/>
<path d="M125.2,742.0L133.8,750.0M133.8,742.0L125.2,750.0" stroke="#2d2d2d" stroke-width="1.9" fill="none"/>
<path d="M200.2,761.8L208.8,769.8M208.8,761.8L200.2,769.8" stroke="#2d2d2d" stroke-width="1.9" fill="none"/>
<path d="M301.0,806.6L309.6,814.6M309.6,806.6L301.0,814.6" stroke="#2d2d2d" stroke-width="1.9" fill="none"/>
<path d="M400.7,858.6L409.3,866.6M409.3,858.6L400.7,866.6" stroke="#2d2d2d" stroke-width="1.9" fill="none"/>
<path d="M477.2,898.3L485.8,906.3M485.8,898.3L477.2,906.3" stroke="#2d2d2d" stroke-width="1.9" fill="none"/>
<path d="M553.4,907.3L562.0,915.3M562.0,907.3L553.4,915.3" stroke="#2d2d2d" stroke-width="1.9" fill="none"/>
<polygon points="129.50,727.20 133.70,734.80 125.30,734.80" fill="#fff" stroke="#2d2d2d" stroke-width="1.7" stroke-linejoin="miter" stroke-miterlimit="2"/>
<polygon points="204.50,734.20 208.70,741.80 200.30,741.80" fill="#fff" stroke="#2d2d2d" stroke-width="1.7" stroke-linejoin="miter" stroke-miterlimit="2"/>
<polygon points="305.30,753.20 309.50,760.80 301.10,760.80" fill="#fff" stroke="#2d2d2d" stroke-width="1.7" stroke-linejoin="miter" stroke-miterlimit="2"/>
<polygon points="405.00,784.20 409.20,791.80 400.80,791.80" fill="#fff" stroke="#2d2d2d" stroke-width="1.7" stroke-linejoin="miter" stroke-miterlimit="2"/>
<polygon points="481.50,829.80 485.70,837.40 477.30,837.40" fill="#fff" stroke="#2d2d2d" stroke-width="1.7" stroke-linejoin="miter" stroke-miterlimit="2"/>
<polygon points="557.70,873.70 561.90,881.30 553.50,881.30" fill="#fff" stroke="#2d2d2d" stroke-width="1.7" stroke-linejoin="miter" stroke-miterlimit="2"/>
<line x1="430.7" y1="710.8" x2="466.7" y2="710.8" stroke="#2d2d2d" stroke-width="1.9"/>
<circle cx="448.0" cy="710.8" r="4.0" fill="#2d2d2d"/>
<text x="471.0" y="714.8" font-size="16.8" text-anchor="start" >Kronenbourg</text>
<line x1="430.7" y1="739.3" x2="466.7" y2="739.3" stroke="#2d2d2d" stroke-width="1.9"/>
<polygon points="448.00,735.30 452.00,743.30 444.00,743.30" fill="#fff" stroke="#2d2d2d" stroke-width="1.8" stroke-linejoin="miter" stroke-miterlimit="2"/>
<text x="471.0" y="743.3" font-size="16.8" text-anchor="start" >Loua</text>
<line x1="430.7" y1="766.8" x2="466.7" y2="766.8" stroke="#2d2d2d" stroke-width="1.9"/>
<path d="M443.7,762.5L452.3,771.1M452.3,762.5L443.7,771.1" stroke="#2d2d2d" stroke-width="1.9" fill="none"/>
<text x="471.0" y="770.8" font-size="16.8" text-anchor="start" >Bordeaux</text>
<text x="0" y="0" font-size="26" font-weight="bold" transform="translate(2.5,682.4) scale(1.0,1)">c</text>
<text x="239.5" y="680.0" font-size="20.5" font-weight="bold" text-anchor="start" >Abd 7</text>
<text x="227.0" y="963.2" font-size="16" font-weight="bold" text-anchor="start" >Developmental temperature (<tspan font-weight="normal">°</tspan>C)</text>
<text x="0" y="0" font-size="16" font-weight="bold" text-anchor="middle" transform="translate(15.5,816.0) rotate(-90)">Pigmentation score</text>
</svg>
</body></html>
